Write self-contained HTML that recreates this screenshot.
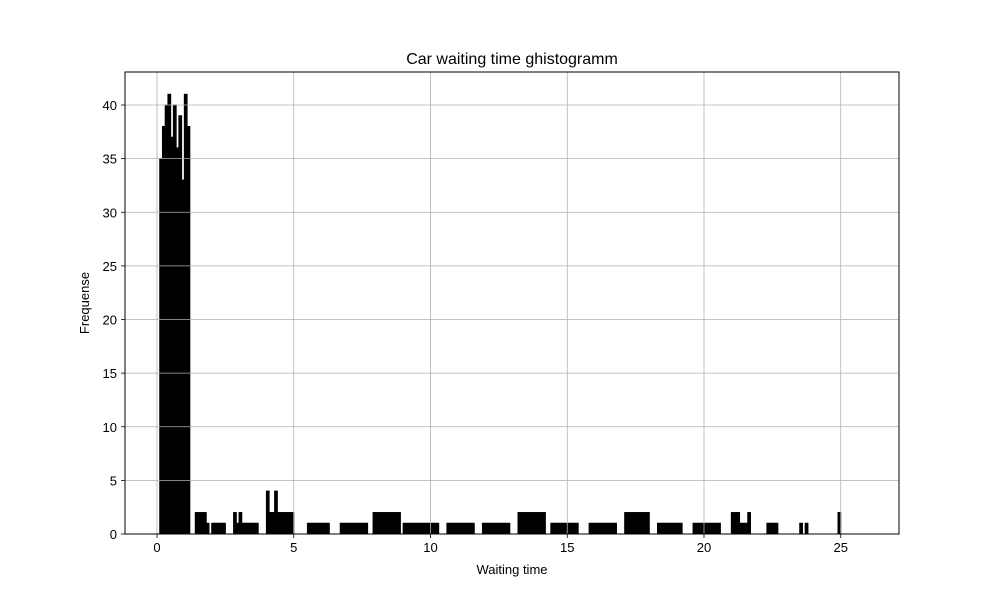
<!DOCTYPE html>
<html><head><meta charset="utf-8"><style>body{margin:0;background:#fff}svg{display:block}text{font-family:"Liberation Sans","DejaVu Sans",sans-serif;fill:#000}</style></head>
<body>
<svg id="chart" width="1000" height="600" xmlns="http://www.w3.org/2000/svg">
<rect width="1000" height="600" fill="#fff"/>
<g id="bars"></g>
<g id="grid"></g>
<rect x="125" y="72" width="774" height="462" fill="none" stroke="#000" stroke-width="1"/>
<g id="ticks"></g>
<text x="512" y="64" font-size="16" text-anchor="middle">Car waiting time ghistogramm</text>
<text x="512" y="574" font-size="13" text-anchor="middle">Waiting time</text>
<text x="89" y="303" font-size="13" text-anchor="middle" transform="rotate(-90 89 303)">Frequense</text>
</svg>
<script>
const binStart = 0.1;
const binWidth = 0.1;
const counts = [
35,38,40,41,37,40,36,39,33,41,
38,0,0,2,2,2,2,1,0,1,
1,1,1,1,0,0,0,2,1,2,
1,1,1,1,1,1,0,0,0,4,
2,2,4,2,2,2,2,2,2,0,
0,0,0,0,1,1,1,1,1,1,
1,1,0,0,0,0,1,1,1,1,
1,1,1,1,1,1,0,0,2,2,
2,2,2,2,2,2,2,2,0,1,
1,1,1,1,1,1,1,1,1,1,
1,1,0,0,0,1,1,1,1,1,
1,1,1,1,1,0,0,0,1,1,
1,1,1,1,1,1,1,1,0,0,
0,2,2,2,2,2,2,2,2,2,
2,0,0,1,1,1,1,1,1,1,
1,1,1,0,0,0,0,1,1,1,
1,1,1,1,1,1,1,0,0,0,
2,2,2,2,2,2,2,2,2,0,
0,0,1,1,1,1,1,1,1,1,
1,0,0,0,0,1,1,1,1,1,
1,1,1,1,1,0,0,0,0,2,
2,2,1,1,1,2,0,0,0,0,
0,0,1,1,1,1,0,0,0,0,
0,0,0,0,1,0,1,0,0,0,
0,0,0,0,0,0,0,0,2,0,
0,0,0,0,0,0,0,0,0];
const xTicks = [0,5,10,15,20,25];
const yTicks = [0,5,10,15,20,25,30,35,40];
const xMin=-1.17, xMax=27.13, yMax=43.08;
const L=125,R=899,T=72,B=534;
const sx=v=>L+(v-xMin)/(xMax-xMin)*(R-L);
const sy=v=>B-v/yMax*(B-T);
const NS="http://www.w3.org/2000/svg";
function mk(t,a){const e=document.createElementNS(NS,t);for(const k in a)e.setAttribute(k,a[k]);return e;}
const bars=document.getElementById('bars');
counts.forEach((c,i)=>{
  const x0=sx(binStart+i*binWidth),x1=sx(binStart+(i+1)*binWidth);
  const r=mk('rect',{x:x0,y:sy(c),width:x1-x0,height:B-sy(c),fill:'#000',stroke:'#000','stroke-width':1});
  
  
  bars.appendChild(r);
});
const grid=document.getElementById('grid'),ticks=document.getElementById('ticks');
xTicks.forEach(v=>{
  const x=sx(v);
  const g=mk('line',{x1:x,x2:x,y1:T,y2:B,stroke:'#b0b0b0','stroke-width':0.8});
  
  
  grid.appendChild(g);
  const t=mk('line',{x1:x,x2:x,y1:B,y2:B+4,stroke:'#000','stroke-width':0.8});
  
  
  ticks.appendChild(t);
  const l=mk('text',{x:x,y:B+18,'font-size':13,'text-anchor':'middle'});
  l.textContent=v;
  
  
  ticks.appendChild(l);
});
yTicks.forEach(v=>{
  const y=sy(v);
  const g=mk('line',{x1:L,x2:R,y1:y,y2:y,stroke:'#b0b0b0','stroke-width':0.8});
  
  
  grid.appendChild(g);
  const t=mk('line',{x1:L-4,x2:L,y1:y,y2:y,stroke:'#000','stroke-width':0.8});
  
  
  ticks.appendChild(t);
  const l=mk('text',{x:L-8,y:y+5,'font-size':13,'text-anchor':'end'});
  l.textContent=v;
  
  
  ticks.appendChild(l);
});
</script>
</body></html>
